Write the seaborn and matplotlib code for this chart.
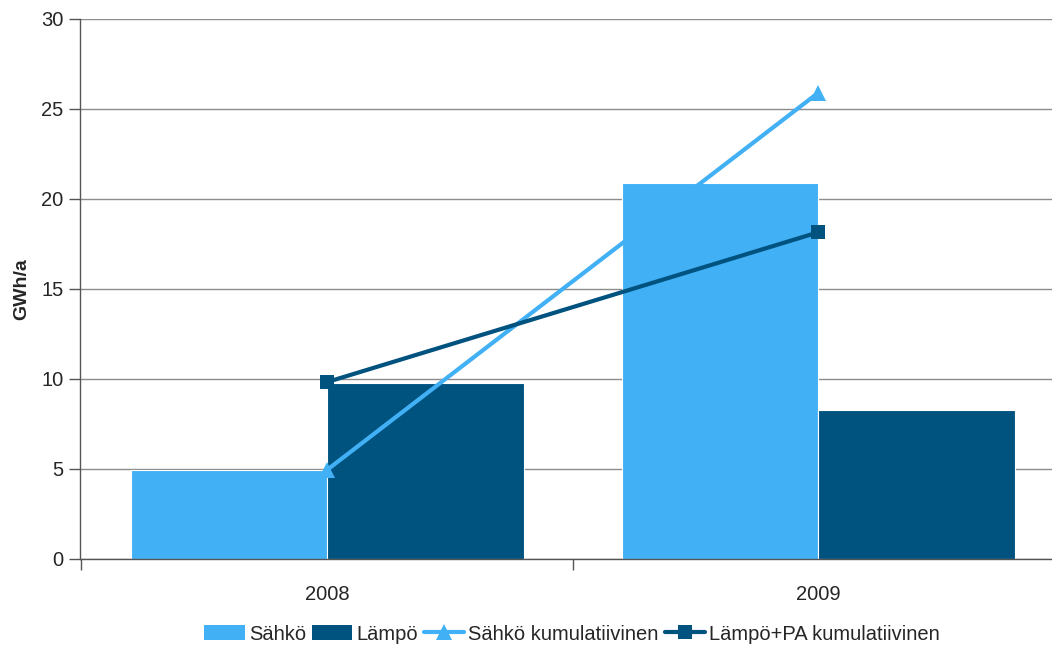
import matplotlib
matplotlib.use("Agg")
import matplotlib.pyplot as plt
from matplotlib.ticker import MultipleLocator, FixedLocator
from matplotlib.patches import Patch
from matplotlib.lines import Line2D
import seaborn as sns
import pandas as pd

years = ["2008", "2009"]
sahko = [4.95, 20.87]
lampo = [9.78, 8.28]
sahko_kum = [4.95, 25.9]
lampo_pa_kum = [9.83, 18.15]

light_blue = "#41B0F4"
dark_blue = "#00527F"

sns.set_theme(style="white")
plt.rcParams["font.family"] = ["Liberation Sans", "DejaVu Sans"]

bars = pd.DataFrame({
    "Vuosi": years * 2,
    "Arvo": sahko + lampo,
    "Sarja": ["Sähkö"] * len(years) + ["Lämpö"] * len(years),
})

fig = plt.figure(figsize=(10.52, 6.48), dpi=100)
ax = fig.add_axes([80 / 1052, 89 / 648, (1052 - 80) / 1052, 540 / 648])

sns.barplot(data=bars, x="Vuosi", y="Arvo", hue="Sarja",
            palette=[light_blue, dark_blue], width=0.8, saturation=1,
            edgecolor="white", linewidth=0.8, ax=ax, zorder=2, legend=False)

xpos = list(range(len(years)))
sns.lineplot(x=xpos, y=sahko_kum, color=light_blue, lw=3, marker="^",
             markersize=11, markeredgewidth=0, ax=ax, zorder=4)
sns.lineplot(x=xpos, y=lampo_pa_kum, color=dark_blue, lw=3, marker="s",
             markersize=10, markeredgewidth=0, ax=ax, zorder=5)

ax.set_ylim(0, 30)
ax.set_xlim(-0.503, 1.476)
ax.yaxis.set_major_locator(MultipleLocator(5))
ax.grid(axis="y", color="#8C8C8C", lw=1, zorder=0)
ax.set_axisbelow(True)

for s in ["top", "right"]:
    ax.spines[s].set_visible(False)
for s in ["left", "bottom"]:
    ax.spines[s].set_color("#555555")
    ax.spines[s].set_linewidth(1)

ax.tick_params(axis="y", which="major", length=8, width=1, color="#555555",
               labelsize=14.5, pad=4, left=True)
ax.tick_params(axis="x", which="major", length=0, labelsize=14.5, pad=19)
ax.xaxis.set_minor_locator(FixedLocator([-0.5, 0.5, 1.5]))
ax.tick_params(axis="x", which="minor", length=8, width=1, color="#555555",
               bottom=True)

ax.set_xlabel("")
ax.set_ylabel("GWh/a", fontsize=14, fontweight="bold", labelpad=8)

handles = [
    Patch(facecolor=light_blue, edgecolor="none"),
    Patch(facecolor=dark_blue, edgecolor="none"),
    Line2D([], [], color=light_blue, lw=3, marker="^", markersize=11, markeredgewidth=0),
    Line2D([], [], color=dark_blue, lw=3, marker="s", markersize=10, markeredgewidth=0),
]
labels = ["Sähkö", "Lämpö", "Sähkö kumulatiivinen", "Lämpö+PA kumulatiivinen"]
fig.legend(handles, labels, loc="center", bbox_to_anchor=(572 / 1052, 14 / 648),
           ncol=4, frameon=False, fontsize=14.5,
           handlelength=2.0, handletextpad=0.2, columnspacing=0.3,
           borderaxespad=0, borderpad=0)

fig.savefig("out.png", dpi=100)
